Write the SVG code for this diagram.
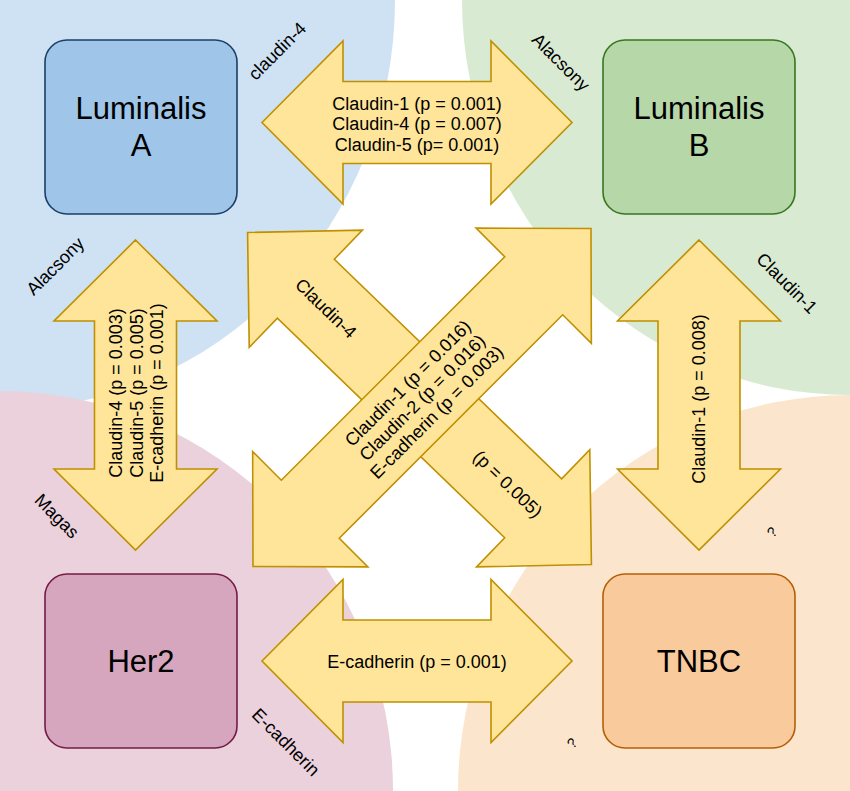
<svg xmlns="http://www.w3.org/2000/svg" width="850" height="791" viewBox="0 0 850 791">
<defs>
<style>
text{font-family:"Liberation Sans",Arial,sans-serif;fill:#000;text-anchor:middle}
.node{stroke-width:1.6}
.big{font-size:31px}
.arr{fill:#ffe599;stroke:#bf9000;stroke-width:1.6}
.at{font-size:18px}
.lab{font-size:18px}
</style>
<path id="dblH" d="M-155,0 L-74,-81.5 L-74,-41 L74,-41 L74,-81.5 L155,0 L74,81.5 L74,41 L-74,41 L-74,81.5 Z"/>
<path id="dblD" d="M-239,0 L-158,-81.5 L-158,-41 L158,-41 L158,-81.5 L239,0 L158,81.5 L158,41 L-158,41 L-158,81.5 Z"/>
</defs>
<rect width="850" height="791" fill="#ffffff"/>
<g id="background">
<ellipse cx="0" cy="0" rx="395" ry="410" fill="#cfe2f3"/>
<ellipse cx="850" cy="0" rx="388" ry="395" fill="#d9ead3"/>
<ellipse cx="0" cy="791" rx="393" ry="400" fill="#ead1dc"/>
<ellipse cx="850" cy="791" rx="392" ry="396" fill="#fce5cd"/>
</g>
<g id="connectors">
<g id="arrow-lumA-lumB">
<use href="#dblH" class="arr" transform="translate(417,122.5)"/>
<text class="at" x="417" y="109.5">Claudin-1 (p = 0.001)</text>
<text class="at" x="417" y="130">Claudin-4 (p = 0.007)</text>
<text class="at" x="417" y="150.5">Claudin-5 (p= 0.001)</text>
</g>
<g id="arrow-her2-tnbc">
<use href="#dblH" class="arr" transform="translate(417,661)"/>
<text class="at" x="417" y="667.5">E-cadherin (p = 0.001)</text>
</g>
<g id="arrow-lumA-her2">
<use href="#dblH" class="arr" transform="translate(135.5,395) rotate(90)"/>
<g transform="translate(136,393) rotate(-90)">
<text class="at" x="0" y="-14">Claudin-4 (p = 0.003)</text>
<text class="at" x="0" y="6.5">Claudin-5 (p = 0.005)</text>
<text class="at" x="0" y="27">E-cadherin (p = 0.001)</text>
</g>
</g>
<g id="arrow-lumB-tnbc">
<use href="#dblH" class="arr" transform="translate(699,395) rotate(90)"/>
<text class="at" transform="translate(699,399) rotate(-90)" x="0" y="6.3">Claudin-1 (p = 0.008)</text>
</g>
<g id="arrow-lumA-tnbc">
<g transform="translate(419.5,398.5) rotate(44)">
<use href="#dblD" class="arr"/>
<text class="at" x="-130" y="6.3">Claudin-4</text>
<text class="at" x="123" y="6.3">(p = 0.005)</text>
</g>
</g>
<g id="arrow-her2-lumB">
<g transform="translate(422,397.5) rotate(-45)">
<use href="#dblD" class="arr"/>
<text class="at" x="0" y="-14">Claudin-1 (p = 0.016)</text>
<text class="at" x="0" y="6.5">Claudin-2 (p = 0.016)</text>
<text class="at" x="0" y="27">E-cadherin (p = 0.003)</text>
</g>
</g>
</g>
<g id="lumA">
<rect class="node" x="45" y="40" width="192" height="174" rx="22" fill="#9fc5e8" stroke="#1b3f66"/>
<text class="big" x="141" y="119">Luminalis</text>
<text class="big" x="141" y="156">A</text>
</g>
<g id="lumB">
<rect class="node" x="603" y="40" width="192" height="174" rx="22" fill="#b6d7a8" stroke="#38761d"/>
<text class="big" x="699" y="119">Luminalis</text>
<text class="big" x="699" y="156">B</text>
</g>
<g id="her2">
<rect class="node" x="45" y="574" width="192" height="174" rx="22" fill="#d5a6bd" stroke="#741b47"/>
<text class="big" x="141" y="672">Her2</text>
</g>
<g id="tnbc">
<rect class="node" x="603" y="574" width="192" height="174" rx="22" fill="#f9cb9c" stroke="#b45f06"/>
<text class="big" x="699" y="672">TNBC</text>
</g>
<g id="labels">
<text class="lab" transform="translate(277,51) rotate(-45)" dy="0.35em">claudin-4</text>
<text class="lab" transform="translate(55,266) rotate(-45)" dy="0.35em">Alacsony</text>
<text class="lab" transform="translate(561,62) rotate(45)" dy="0.35em">Alacsony</text>
<text class="lab" transform="translate(787,283) rotate(45)" dy="0.35em">Claudin-1</text>
<text class="lab" transform="translate(57,516) rotate(45)" dy="0.35em">Magas</text>
<text class="lab" transform="translate(286,742) rotate(45)" dy="0.35em">E-cadherin</text>
<text class="lab" style="font-size:14px" transform="translate(772,532) rotate(-45)" dy="0.35em">?</text>
<text class="lab" style="font-size:14px" transform="translate(572,743) rotate(-45)" dy="0.35em">?</text>
</g>
</svg>
